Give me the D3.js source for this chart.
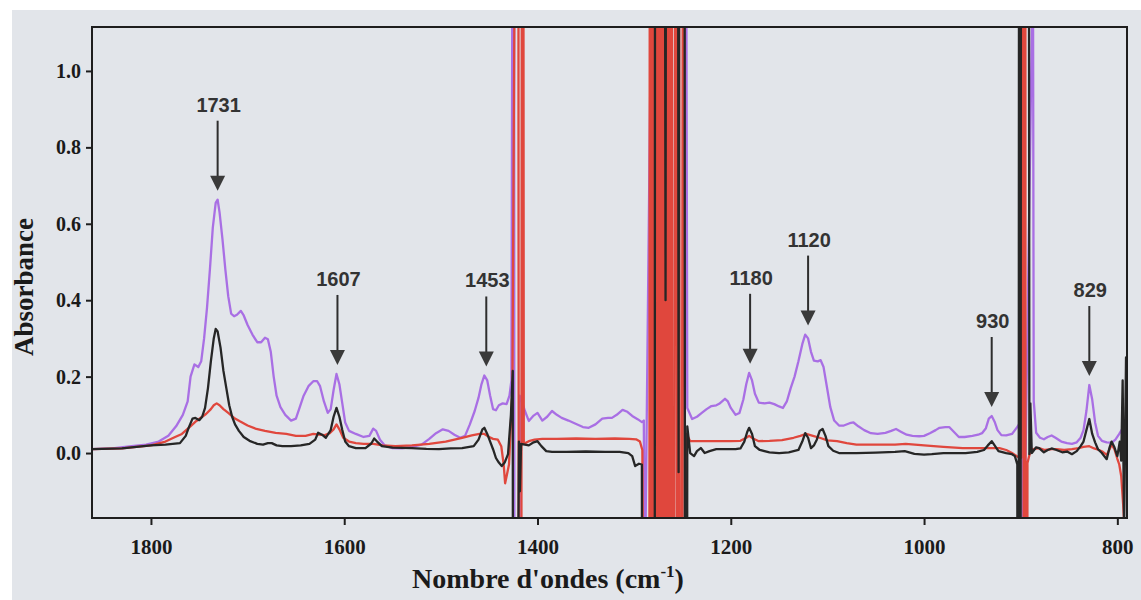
<!DOCTYPE html>
<html><head><meta charset="utf-8">
<script src="https://cdn.jsdelivr.net/npm/d3@7"></script>
<style>
html,body{margin:0;padding:0;background:#ffffff;}
svg{display:block;}
</style></head>
<body>
<script>
// ---------- data ----------
const xTicks = [1800, 1600, 1400, 1200, 1000, 800];
const yTicks = [0.0, 0.2, 0.4, 0.6, 0.8, 1.0];
const peakLabels = [1731, 1607, 1453, 1180, 1120, 930, 829];

// purple spectrum [wavenumber, absorbance]
const purpleSpectrum = [
[1861,0.010],[1840,0.012],[1820,0.018],[1805,0.022],[1792,0.030],[1782,0.045],[1774,0.070],[1767,0.100],[1762,0.135],[1759,0.200],[1755,0.232],[1751,0.225],[1748,0.240],[1745,0.300],[1742,0.380],[1739,0.480],[1736,0.590],[1733,0.655],[1731,0.663],[1729,0.630],[1726,0.560],[1723,0.480],[1720,0.410],[1717,0.365],[1714,0.358],[1711,0.362],[1707,0.372],[1704,0.360],[1700,0.335],[1695,0.310],[1690,0.290],[1686,0.290],[1682,0.302],[1679,0.298],[1676,0.265],[1673,0.200],[1670,0.150],[1666,0.120],[1661,0.100],[1655,0.085],[1650,0.090],[1646,0.120],[1642,0.150],[1637,0.175],[1632,0.188],[1628,0.188],[1625,0.175],[1621,0.135],[1617,0.105],[1614,0.115],[1611,0.165],[1608,0.207],[1605,0.180],[1602,0.130],[1599,0.080],[1595,0.058],[1588,0.050],[1580,0.042],[1574,0.045],[1570,0.064],[1567,0.058],[1563,0.035],[1558,0.020],[1550,0.013],[1540,0.012],[1530,0.016],[1520,0.022],[1512,0.037],[1505,0.052],[1498,0.062],[1492,0.058],[1486,0.048],[1480,0.040],[1475,0.045],[1470,0.075],[1465,0.110],[1461,0.145],[1458,0.180],[1455,0.203],[1452,0.190],[1449,0.150],[1446,0.115],[1443,0.112],[1440,0.125],[1436,0.130],[1432,0.128],[1429,0.150],[1427,0.190],
[1424.5,3],[1423.5,-3],[1419,-3],[1418.4,0.150],[1415.5,0.130],[1413,0.110],
[1409,0.084],[1404,0.098],[1400,0.105],[1395,0.085],[1390,0.095],[1385,0.110],[1380,0.100],[1375,0.092],[1368,0.085],[1360,0.076],[1353,0.068],[1347,0.066],[1340,0.075],[1333,0.090],[1327,0.092],[1323,0.092],[1318,0.100],[1312,0.113],[1307,0.108],[1302,0.097],[1296,0.088],[1292,0.081],
[1290,0.085],[1289,-0.4],[1281.5,1.4],[1270,3],[1247.5,3],[1245,0.118],
[1240,0.089],[1235,0.095],[1230,0.105],[1225,0.115],[1220,0.123],[1215,0.125],[1212,0.129],[1206,0.142],[1203,0.135],[1200,0.118],[1195,0.100],[1191,0.105],[1187,0.140],[1184,0.180],[1181,0.210],[1178,0.190],[1175,0.155],[1171,0.132],[1165,0.130],[1160,0.132],[1155,0.128],[1150,0.122],[1146,0.118],[1142,0.135],[1138,0.170],[1134,0.200],[1130,0.240],[1126,0.285],[1123,0.310],[1120,0.300],[1117,0.265],[1114,0.242],[1110,0.240],[1107,0.243],[1104,0.225],[1101,0.180],[1097,0.120],[1093,0.085],[1088,0.072],[1083,0.072],[1077,0.078],[1073,0.080],[1068,0.070],[1062,0.060],[1055,0.052],[1048,0.050],[1040,0.053],[1034,0.058],[1029,0.063],[1024,0.056],[1018,0.048],[1012,0.045],[1005,0.044],[1000,0.045],[994,0.052],[988,0.060],[984,0.066],[978,0.068],[974,0.068],[969,0.055],[964,0.042],[958,0.042],[950,0.045],[944,0.048],[940,0.052],[936,0.065],[933,0.090],[930,0.097],[927,0.082],[924,0.060],[920,0.047],[915,0.046],[909,0.050],[906,0.060],[903,0.070],[900.8,0.080],
[899.3,3],[897.8,-0.5],[887.3,1.3],[886.5,0.136],[884,0.053],[880,0.040],[876,0.036],[872,0.042],[868,0.046],[864,0.040],[858,0.030],[852,0.026],[847,0.024],[842,0.028],[838,0.040],[835,0.060],[832,0.110],[829,0.178],[826,0.140],[823,0.080],[820,0.045],[816,0.032],[811,0.028],[806,0.027],[802,0.035],[798,0.050],[795,0.063],[792,0.075],[789,0.100]
];

// black spectrum
const blackSpectrum = [
[1861,0.010],[1830,0.012],[1800,0.020],[1785,0.022],[1770,0.026],[1764,0.045],[1761,0.066],[1757,0.090],[1754,0.092],[1750,0.086],[1747,0.095],[1744,0.118],[1741,0.170],[1738,0.240],[1735,0.300],[1733,0.325],[1731,0.318],[1728,0.276],[1725,0.215],[1722,0.170],[1719,0.125],[1716,0.095],[1713,0.075],[1709,0.058],[1704,0.042],[1698,0.032],[1690,0.024],[1684,0.022],[1679,0.026],[1675,0.026],[1670,0.020],[1664,0.018],[1655,0.018],[1645,0.020],[1636,0.024],[1630,0.035],[1627,0.053],[1623,0.048],[1619,0.040],[1614,0.060],[1611,0.095],[1608,0.118],[1605,0.095],[1602,0.060],[1599,0.030],[1595,0.018],[1588,0.013],[1578,0.013],[1572,0.025],[1569,0.038],[1566,0.030],[1561,0.018],[1550,0.014],[1530,0.013],[1515,0.011],[1502,0.010],[1490,0.012],[1478,0.013],[1466,0.018],[1461,0.035],[1457,0.062],[1455,0.066],[1452,0.050],[1449,0.030],[1446,0.010],[1443,-0.013],[1440,-0.025],[1437,-0.034],[1434,-0.025],[1430.5,-0.003],[1427.5,0.100],[1425.6,0.215],
[1424.9,-3],[1420,-0.3],[1419.2,0.030],[1418.2,-0.100],[1417,0.024],[1413,0.022],[1409,0.020],[1404,0.028],[1400,0.031],[1396,0.018],[1391,0.005],[1385,0.003],[1370,0.003],[1350,0.004],[1330,0.003],[1315,0.003],[1306,0.000],[1302,-0.008],[1299,-0.034],[1295,-0.028],[1292,-0.030],
[1290.5,-3],[1279,-3],[1278.2,3],[1269,3],[1267.5,0.40],[1266.5,3],[1255,3],[1254,-0.05],[1253,3],[1248,3],[1247,-3],[1246.3,-3],[1245,0.070],
[1242,0.000],[1238,-0.008],[1235,0.005],[1231,0.013],[1227,0.000],[1222,0.005],[1215,0.010],[1205,0.010],[1195,0.010],[1190,0.012],[1186,0.030],[1183,0.055],[1181,0.066],[1178,0.050],[1175,0.018],[1170,0.008],[1160,0.002],[1150,0.000],[1140,0.002],[1130,0.008],[1126,0.030],[1123,0.052],[1120,0.040],[1117,0.013],[1114,0.020],[1111,0.035],[1108,0.058],[1105,0.063],[1102,0.045],[1099,0.018],[1094,0.006],[1088,0.000],[1070,0.000],[1050,0.001],[1030,0.003],[1020,0.005],[1010,-0.002],[1000,-0.004],[992,-0.003],[980,0.000],[965,0.000],[957,0.000],[945,0.003],[938,0.008],[934,0.020],[930,0.031],[927,0.020],[923,0.005],[915,0.000],[909,-0.003],[906,-0.008],[903.5,-0.030],
[902.5,-3],[901.5,3],[900.5,-3],[899.5,3],[892,3],[891,-0.003],[890,0.130],[888.5,0.000],[884,0.015],[881,0.013],[876,0.002],[872,0.008],[868,0.012],[863,0.008],[857,0.002],[852,0.004],[847,-0.003],[842,0.005],[838,0.018],[835,0.030],[832,0.060],[829,0.089],[826,0.050],[823,0.028],[820,0.010],[816,0.000],[813,-0.010],[811,-0.016],[808,0.015],[806,0.030],[803,0.015],[800,-0.008],[797.5,0.030],[796,-0.020],[794.5,0.190],[793,-0.200],[791,0.250],[789,0.250]
];

// red spectrum
const redSpectrum = [
[1861,0.010],[1830,0.012],[1800,0.020],[1785,0.030],[1775,0.042],[1768,0.050],[1760,0.068],[1753,0.084],[1747,0.095],[1743,0.102],[1738,0.115],[1735,0.125],[1732,0.130],[1729,0.125],[1725,0.115],[1720,0.105],[1714,0.092],[1708,0.083],[1700,0.072],[1691,0.063],[1682,0.058],[1671,0.053],[1660,0.050],[1650,0.045],[1640,0.045],[1632,0.050],[1626,0.048],[1620,0.047],[1615,0.052],[1611,0.062],[1608,0.075],[1605,0.062],[1601,0.040],[1595,0.030],[1588,0.026],[1580,0.024],[1570,0.024],[1560,0.020],[1547,0.018],[1530,0.020],[1512,0.024],[1495,0.030],[1478,0.040],[1468,0.046],[1460,0.050],[1455,0.050],[1450,0.042],[1446,0.037],[1441,0.035],[1437.5,0.018],[1435,-0.030],[1433.5,-0.079],[1431.5,-0.055],[1429.5,-0.030],[1426,0.160],
[1420,3],[1419,-3],[1417,-3],[1416.6,-0.066],[1415.8,3],[1415,3],[1414.2,0.024],[1409,0.031],[1403,0.035],[1395,0.037],[1380,0.037],[1360,0.038],[1340,0.037],[1320,0.038],[1305,0.037],[1298,0.036],[1294,0.030],[1291.5,0.008],
[1284.8,-3],[1283.5,3],[1282.1,-3],[1280.7,3],[1279.3,-3],[1277.9,3],[1276.5,-3],[1275.1,3],[1273.7,-3],[1272.3,3],[1270.9,-3],[1269.5,3],[1268.1,-3],[1266.7,3],[1265.3,-3],[1263.9,3],[1262.5,-3],[1261.1,3],[1260.4,-3],[1256.5,3],[1255.1,-3],[1253.7,3],[1252.3,-3],[1248.6,3],[1247.2,-3],[1245.8,0.050],
[1242,0.031],[1230,0.031],[1215,0.031],[1200,0.031],[1190,0.032],[1184,0.040],[1181,0.045],[1177,0.038],[1171,0.031],[1160,0.032],[1147,0.034],[1135,0.040],[1128,0.045],[1122,0.050],[1115,0.045],[1108,0.040],[1100,0.033],[1090,0.031],[1080,0.026],[1070,0.022],[1050,0.022],[1030,0.022],[1019,0.024],[1000,0.020],[980,0.016],[960,0.013],[950,0.013],[935,0.013],[922,0.013],[915,0.008],[909,0.000],[906,-0.005],[903,-0.010],[899.5,-0.012],
[898,3],[896,-3],[895.3,3],[894.8,-3],[894,-3],[893,-0.026],[890,0.005],[887,0.010],[881,0.013],[875,0.008],[868,0.010],[863,0.010],[855,0.008],[847,0.010],[840,0.013],[835,0.016],[829,0.018],[824,0.012],[819,0.008],[815,0.003],[811,-0.005],[808,0.010],[806,0.022],[803,0.010],[800,-0.015],[798,-0.030],[796,-0.060],[794,-0.134],[792.5,-0.200],[789,-0.260]
];

// ---------- drawing ----------
const W = 1141, H = 600;
const plot = {left: 92, right: 1127, top: 27, bottom: 518};
const bg = "#e2e5ea";

const svg = d3.select("body").append("svg").attr("width", W).attr("height", H);

// scanned page background
svg.append("rect").attr("x", 12).attr("y", 10).attr("width", W - 12).attr("height", H - 10).attr("fill", bg);

const x = d3.scaleLinear().domain([1861, 790]).range([plot.left, plot.right]);
const y = d3.scaleLinear().domain([-0.17, 1.115]).range([plot.bottom, plot.top]);

svg.append("defs").append("clipPath").attr("id", "clip")
  .append("rect").attr("x", plot.left).attr("y", plot.top)
  .attr("width", plot.right - plot.left).attr("height", plot.bottom - plot.top);

const line = d3.line().x(d => x(d[0])).y(d => y(d[1]));

const g = svg.append("g").attr("clip-path", "url(#clip)");
const series = [
  {data: purpleSpectrum, color: "#a96fe4"},
  {data: redSpectrum, color: "#e0473d"},
  {data: blackSpectrum, color: "#262626"}
];
series.forEach(s => {
  g.append("path").datum(s.data).attr("d", line)
    .attr("fill", "none").attr("stroke", s.color)
    .attr("stroke-width", 2.3).attr("stroke-linejoin", "round");
});

// frame
svg.append("rect").attr("x", plot.left).attr("y", plot.top)
  .attr("width", plot.right - plot.left).attr("height", plot.bottom - plot.top)
  .attr("fill", "none").attr("stroke", "#1e1e1e").attr("stroke-width", 2);

// axes
const serif = "'Liberation Serif','Times New Roman',serif";
const xAxis = d3.axisBottom(x).tickValues(xTicks).tickSize(7).tickFormat(d3.format("d"));
const gx = svg.append("g").attr("transform", `translate(0,${plot.bottom})`).call(xAxis);
gx.select(".domain").remove();
gx.selectAll(".tick line").attr("stroke", "#1e1e1e").attr("stroke-width", 2);
gx.selectAll(".tick text").attr("font-family", serif).attr("font-weight", "bold")
  .attr("font-size", 21).attr("fill", "#1a1a1a").attr("dy", "1.25em");

const yAxis = d3.axisLeft(y).tickValues(yTicks).tickSize(6).tickFormat(d3.format(".1f"));
const gy = svg.append("g").attr("transform", `translate(${plot.left},0)`).call(yAxis);
gy.select(".domain").remove();
gy.selectAll(".tick line").attr("stroke", "#1e1e1e").attr("stroke-width", 2);
gy.selectAll(".tick text").attr("font-family", serif).attr("font-weight", "bold")
  .attr("font-size", 20).attr("fill", "#1a1a1a").attr("x", -11);

// axis titles
const xt = svg.append("text").attr("x", 548).attr("y", 588).attr("text-anchor", "middle")
  .attr("font-family", serif).attr("font-weight", "bold").attr("font-size", 28).attr("fill", "#1a1a1a");
xt.append("tspan").text("Nombre d'ondes (cm");
xt.append("tspan").attr("font-size", 17).attr("dy", -11).text("-1");
xt.append("tspan").attr("dy", 11).text(")");

svg.append("text").attr("transform", "translate(33,287) rotate(-90)").attr("text-anchor", "middle")
  .attr("font-family", serif).attr("font-weight", "bold").attr("font-size", 27).attr("fill", "#1a1a1a")
  .text("Absorbance");

// peak annotations
const ann = svg.append("g");
peakLabels.forEach(w => {
  const near = purpleSpectrum.filter(d => Math.abs(d[0] - w) <= 5 && d[1] < 2);
  const peak = d3.max(near, d => d[1]);
  const px = x(w);
  const tip = y(peak) - 9;
  const headH = 15, headW = 15, len = 70;
  ann.append("line").attr("x1", px).attr("x2", px).attr("y1", tip - len).attr("y2", tip - headH + 1)
    .attr("stroke", "#2e2e2e").attr("stroke-width", 2);
  ann.append("path").attr("d", `M${px - headW / 2},${tip - headH} L${px + headW / 2},${tip - headH} L${px},${tip} Z`)
    .attr("fill", "#3a3a3a");
  ann.append("text").attr("x", px + 1).attr("y", tip - len - 9).attr("text-anchor", "middle")
    .attr("font-family", "'Liberation Sans',Arial,sans-serif").attr("font-weight", "bold")
    .attr("font-size", 20).attr("fill", "#333").text(String(w));
});
</script>
</body></html>
